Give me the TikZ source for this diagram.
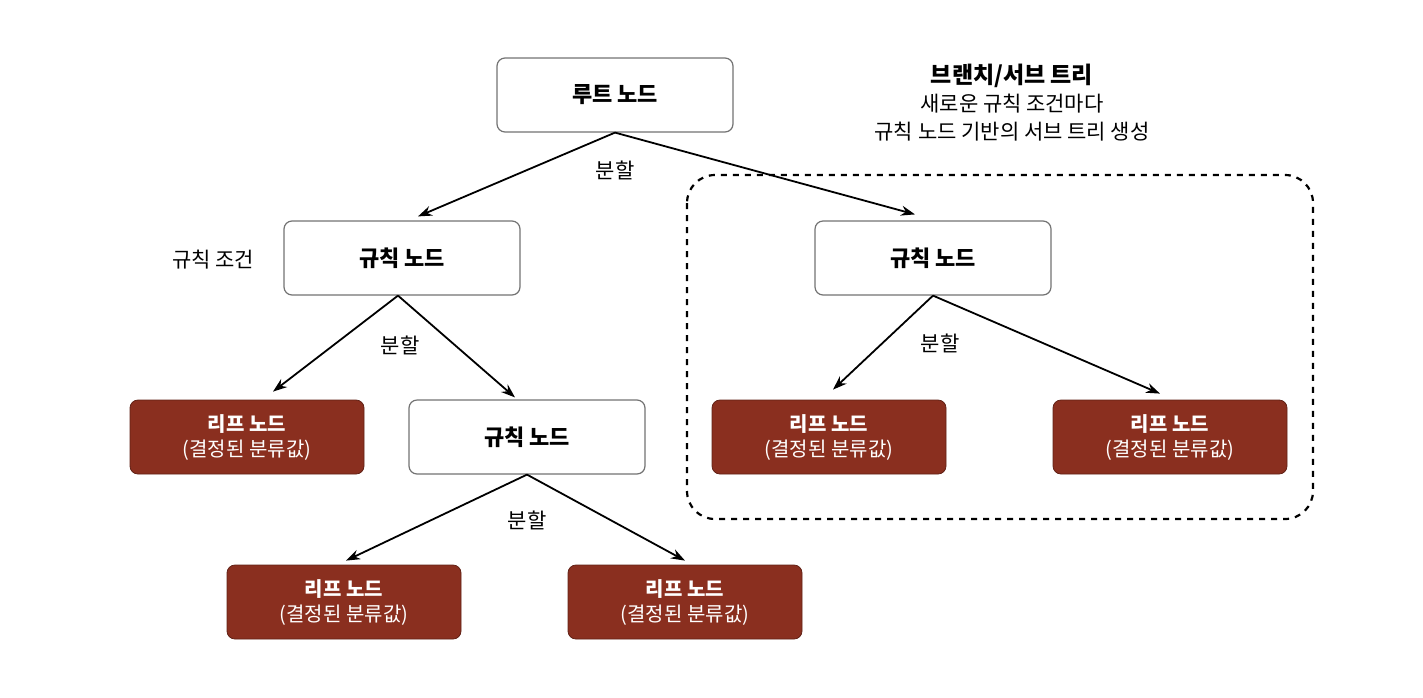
\documentclass[tikz,border=0pt]{standalone}
\usepackage{fontspec}
\setmainfont{Noto Sans CJK KR}
\usetikzlibrary{arrows.meta}
\definecolor{leafred}{HTML}{8A2F1F}
\begin{document}
\begin{tikzpicture}[x=0.5pt,y=-0.5pt,
  rule/.style={draw=black!55,line width=0.6pt,rounded corners=4pt,minimum width=118pt,minimum height=37pt,font=\fontsize{11}{13}\selectfont\bfseries,fill=white},
  leaf/.style={fill=leafred,draw=leafred!70!black,rounded corners=4pt,minimum width=117pt,minimum height=37pt,text=white,align=center,font=\fontsize{10}{12.5}\selectfont},
  arr/.style={-{Stealth[length=7pt,width=5pt]},line width=0.9pt},
  lab/.style={font=\fontsize{10.5}{12}\selectfont}]
\useasboundingbox (0,0) rectangle (1423,697);
\draw[dashed,line width=1.1pt,rounded corners=14pt] (687,175) rectangle (1313,519);
\node[rule] (root) at (615,95) {루트 노드};
\node[rule] (rl) at (402,258) {규칙 노드};
\node[rule] (rr) at (933,258) {규칙 노드};
\node[rule] (rm) at (527,437) {규칙 노드};
\node[leaf] (l1) at (247,437) {\textbf{리프 노드}\\(결정된 분류값)};
\node[leaf] (r1) at (829,437) {\textbf{리프 노드}\\(결정된 분류값)};
\node[leaf] (r2) at (1170,437) {\textbf{리프 노드}\\(결정된 분류값)};
\node[leaf] (b1) at (344,602) {\textbf{리프 노드}\\(결정된 분류값)};
\node[leaf] (b2) at (685,602) {\textbf{리프 노드}\\(결정된 분류값)};
\draw[arr] (root.south) -- ([xshift=8pt,yshift=2pt]rl.north);
\draw[arr] (root.south) -- ([xshift=-9pt,yshift=3pt]rr.north);
\draw[arr] ([xshift=-2pt]rl.south) -- ([xshift=13pt,yshift=4pt]l1.north);
\draw[arr] ([xshift=-2pt]rl.south) -- ([xshift=-6pt,yshift=1pt]rm.north);
\draw[arr] (rm.south) -- ([xshift=1pt,yshift=2pt]b1.north);
\draw[arr] (rm.south) -- ([yshift=2pt]b2.north);
\draw[arr] (rr.south) -- ([xshift=2pt,yshift=5pt]r1.north);
\draw[arr] (rr.south) -- ([xshift=-5pt,yshift=3pt]r2.north);
\node[lab] (s1) at (615,170) {분할};
\node[lab] (s2) at (400,345) {분할};
\node[lab] (s3) at (527,520) {분할};
\node[lab] (s4) at (940,343) {분할};
\node[lab] (cond) at (213,260) {규칙 조건};
\node[align=center,font=\fontsize{10.5}{14}\selectfont] (title) at (1012,103) {\textbf{\fontsize{11.5}{14}\selectfont 브랜치/서브 트리}\\새로운 규칙 조건마다\\규칙 노드 기반의 서브 트리 생성};
\end{tikzpicture}
\end{document}
